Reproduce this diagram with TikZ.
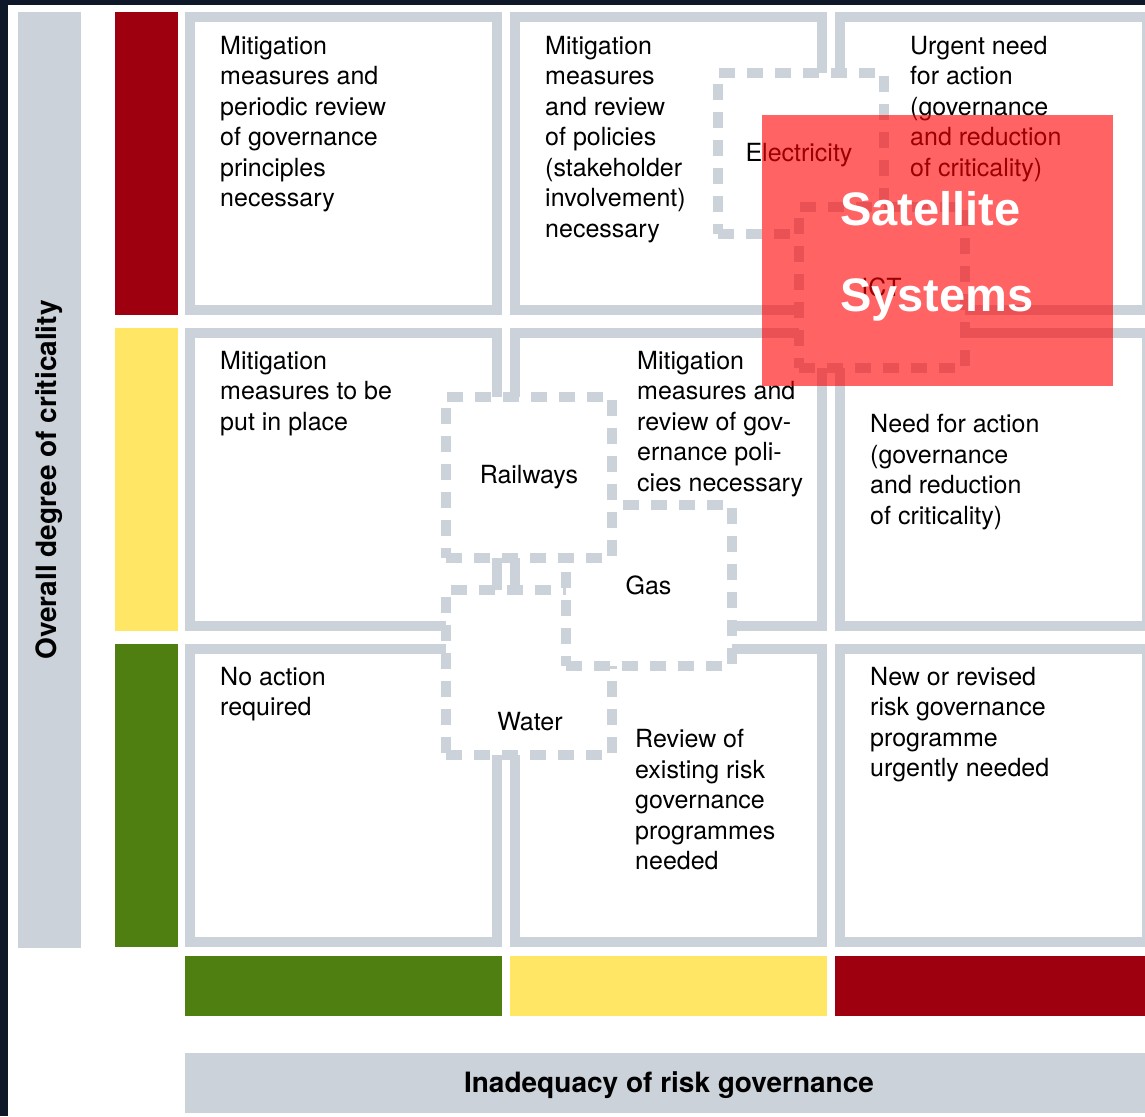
\documentclass[tikz,border=0pt]{standalone}
\usepackage{fontspec}
\setmainfont{TeX Gyre Heros}
\newfontfamily\satfont{Liberation Sans}
\usetikzlibrary{positioning}
\definecolor{framegrey}{HTML}{CBD2DA}
\definecolor{critred}{HTML}{9E0010}
\definecolor{crityellow}{HTML}{FFE664}
\definecolor{critgreen}{HTML}{4F7F10}
\definecolor{darkbg}{HTML}{0E1828}
\tikzset{cell/.style={draw=framegrey,line width=10pt,fill=white,rectangle,inner sep=0pt,minimum width=307pt,minimum height=293pt}}
\tikzset{celltext/.style={anchor=north west,align=left,inner sep=0pt,font=\fontsize{25pt}{30.5pt}\selectfont}}
\tikzset{sector/.style={draw=framegrey,line width=10pt,dash pattern=on 16pt off 12pt,fill=white,rectangle,inner sep=0pt,minimum width=166pt,minimum height=161pt,font=\fontsize{25pt}{30pt}\selectfont}}
\tikzset{sectlabel/.style={inner sep=0pt,font=\fontsize{25pt}{30pt}\selectfont}}
\tikzstyle{axis}=[fill=framegrey,inner sep=0pt,font=\bfseries\fontsize{28pt}{30pt}\selectfont]
\tikzstyle{bar}=[inner sep=0pt,minimum width=63pt,minimum height=303pt]
\tikzstyle{hbar}=[inner sep=0pt,minimum width=317pt,minimum height=60pt]

\begin{document}
\begin{tikzpicture}[x=1pt,y=-1pt,node distance=325pt,on grid]
  \useasboundingbox (0,0) rectangle (1145,1116);
  \fill[darkbg] (0,0) rectangle (1145,1116);
  \fill[white] (8,5) rectangle (1145,1116);

  \node[axis,minimum width=936pt,minimum height=63pt,rotate=90] (crit) at (49.5,480) {Overall degree of criticality};
  \node[bar,fill=critred] (lred) at (146.5,163.5) {};
  \node[bar,fill=crityellow,below=316pt of lred] (lyellow) {};
  \node[bar,fill=critgreen,below=316pt of lyellow] (lgreen) {};

  \node[cell] (c11) at (343.5,163.5) {};
  \node[cell,right=of c11] (c12) {};
  \node[cell,right=of c12] (c13) {};
  \node[cell,below=316pt of c11] (c21) {};
  \node[cell,right=of c21] (c22) {};
  \node[cell,right=of c22] (c23) {};
  \node[cell,below=316pt of c21] (c31) {};
  \node[cell,right=of c31] (c32) {};
  \node[cell,right=of c32] (c33) {};

  \node[hbar,fill=critgreen] (bgreen) at (343.5,985.5) {};
  \node[hbar,fill=crityellow,right=of bgreen] (byellow) {};
  \node[hbar,fill=critred,right=of byellow] (bred) {};
  \node[axis,minimum width=968pt,minimum height=60pt] (gov) at (669,1082.5) {};
  \node[inner sep=0pt,font=\bfseries\fontsize{28pt}{30pt}\selectfont] (govlabel) at (669,1085) {Inadequacy of risk governance};

  \node[celltext] (t11) at (220,36) {Mitigation\\measures and\\periodic review\\of governance\\principles\\necessary};
  \node[celltext] (t12) at (545,36) {Mitigation\\measures\\and review\\of policies\\(stakeholder\\involvement)\\necessary};
  \node[celltext] (t13) at (910,36) {Urgent need\\for action\\(governance\\and reduction\\of criticality)};
  \node[celltext] (t21) at (220,351) {Mitigation\\measures to be\\put in place};
  \node[celltext] (t22) at (637,351) {Mitigation\\measures and\\review of gov-\\ernance poli-\\cies necessary};
  \node[celltext] (t23) at (870,414) {Need for action\\(governance\\and reduction\\of criticality)};
  \node[celltext] (t31) at (220,667) {No action\\required};
  \node[celltext] (t32) at (635,729) {Review of\\existing risk\\governance\\programmes\\needed};
  \node[celltext] (t33) at (870,667) {New or revised\\risk governance\\programme\\urgently needed};

  \node[sector,minimum height=165pt] (water) at (529,672) {};
  \node[sectlabel] (waterlabel) at (530,722) {Water};
  \node[sector] (gas) at (648.5,585) {Gas};
  \node[sector] (railways) at (529,477) {Railways};
  \node[sector] (electricity) at (800.5,153) {};
  \node[sectlabel] (eleclabel) at (799,155) {Electricity};
  \node[sector] (ict) at (881.5,287) {ICT};

  \node[fill=red,fill opacity=0.61,inner sep=0pt,minimum width=351pt,minimum height=271pt] (satbox) at (937.5,250.5) {};
  \node[anchor=north west,align=left,inner sep=0pt,text=white,font=\satfont\bfseries\fontsize{47pt}{86pt}\selectfont] (sat) at (840,191) {Satellite\\Systems};
\end{tikzpicture}
\end{document}
